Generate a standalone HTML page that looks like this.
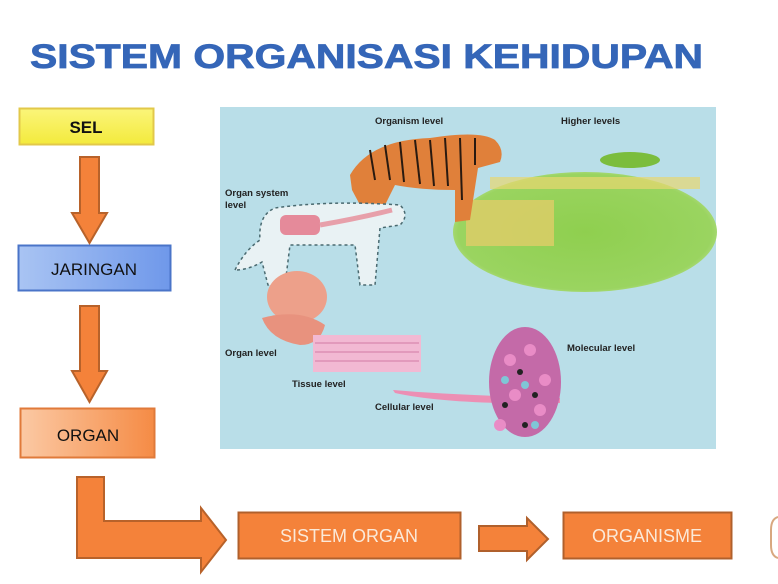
<!DOCTYPE html>
<html><head><meta charset="utf-8"><style>
html,body{margin:0;padding:0;background:#fff;width:778px;height:584px;overflow:hidden}
svg{display:block}
text{font-family:"Liberation Sans",sans-serif}
</style></head><body>
<svg width="778" height="584" viewBox="0 0 778 584" xmlns="http://www.w3.org/2000/svg">
<defs>
<linearGradient id="gy" x1="0" y1="0" x2="0" y2="1"><stop offset="0" stop-color="#fbf57a"/><stop offset="1" stop-color="#f3ea3c"/></linearGradient>
<linearGradient id="gb" x1="0" y1="0" x2="1" y2="0"><stop offset="0" stop-color="#a9c4f3"/><stop offset="1" stop-color="#6f98ea"/></linearGradient>
<linearGradient id="go" x1="0" y1="0" x2="1" y2="0"><stop offset="0" stop-color="#fbc9a4"/><stop offset="1" stop-color="#f58b45"/></linearGradient>
<radialGradient id="gg" cx="0.5" cy="0.5" r="0.6"><stop offset="0" stop-color="#8fcf4f"/><stop offset="0.8" stop-color="#9ad460"/><stop offset="1" stop-color="#d4ebba"/></radialGradient>
</defs>
<text x="30" y="68" font-size="34" font-weight="bold" fill="#3566b8" stroke="#3566b8" stroke-width="0.8" textLength="673" lengthAdjust="spacingAndGlyphs">SISTEM ORGANISASI KEHIDUPAN</text>

<rect x="19.5" y="108.5" width="134" height="36" fill="url(#gy)" stroke="#e2c84a" stroke-width="2"/>
<text x="86" y="133" font-size="17" font-weight="bold" text-anchor="middle" fill="#111">SEL</text>
<path d="M80 157 H99 V213 H107 L89.5 243 L72 213 H80 Z" fill="#f4823a" stroke="#b8622a" stroke-width="2"/>
<rect x="18.5" y="245.5" width="152" height="45" fill="url(#gb)" stroke="#4a74c8" stroke-width="2"/>
<text x="94" y="275" font-size="17" text-anchor="middle" fill="#111">JARINGAN</text>
<path d="M80 306 H99 V371 H107 L89.5 402 L72 371 H80 Z" fill="#f4823a" stroke="#b8622a" stroke-width="2"/>
<rect x="20.5" y="408.5" width="134" height="49" fill="url(#go)" stroke="#e07a3a" stroke-width="2"/>
<text x="88" y="441" font-size="17" text-anchor="middle" fill="#111">ORGAN</text>
<path d="M77 477 H104 V521 H201 V508 L226 540 L201 572 V558 H77 Z" fill="#f4823a" stroke="#b8622a" stroke-width="2"/>

<rect x="238.5" y="512.5" width="222" height="46" fill="#f4823a" stroke="#b0602c" stroke-width="2"/>
<text x="349" y="542" font-size="18" text-anchor="middle" fill="#fbe9d8">SISTEM ORGAN</text>
<path d="M479 526 H527 V518 L548 539 L527 560 V551 H479 Z" fill="#f4823a" stroke="#b0602c" stroke-width="2"/>
<rect x="563.5" y="512.5" width="168" height="46" fill="#f4823a" stroke="#b0602c" stroke-width="2"/>
<text x="647" y="542" font-size="18" text-anchor="middle" fill="#fbe9d8">ORGANISME</text>
<path d="M778 517 Q771 519 771 530 V545 Q771 556 778 558" fill="none" stroke="#d8a880" stroke-width="2"/>

<rect x="220" y="107" width="496" height="342" fill="#b9dee8"/>
<ellipse cx="585" cy="232" rx="132" ry="60" fill="url(#gg)"/>
<rect x="490" y="177" width="210" height="12" fill="#e8d770" opacity="0.7"/>
<rect x="466" y="200" width="88" height="46" fill="#e5cc6a" opacity="0.75"/>
<ellipse cx="630" cy="160" rx="30" ry="8" fill="#7bbd3d"/>
<path d="M350 175 Q370 140 430 138 Q480 130 495 140 Q505 150 500 162 L478 168 L470 220 L455 222 L455 190 Q420 190 395 185 L385 205 L360 205 L352 190 Z" fill="#e0803a"/>
<g stroke="#2a1a10" stroke-width="2">
<line x1="370" y1="150" x2="375" y2="180"/><line x1="385" y1="145" x2="390" y2="180"/><line x1="400" y1="142" x2="404" y2="182"/><line x1="415" y1="140" x2="420" y2="184"/><line x1="430" y1="140" x2="434" y2="186"/><line x1="445" y1="138" x2="448" y2="186"/><line x1="460" y1="138" x2="462" y2="200"/><line x1="475" y1="138" x2="475" y2="165"/>
</g>
<path d="M235 270 Q245 250 260 240 Q258 215 275 208 Q330 200 400 205 Q410 215 400 225 L380 228 L375 285 L360 285 L355 245 L290 245 L285 285 L268 285 L262 262 Q248 270 235 270 Z" fill="#e9f2f4" stroke="#4a6a70" stroke-width="1.5" stroke-dasharray="3 3"/>
<rect x="280" y="215" width="40" height="20" rx="6" fill="#e58a9a"/>
<path d="M320 225 Q360 218 392 210" stroke="#e7a0aa" stroke-width="5" fill="none"/>
<ellipse cx="297" cy="297" rx="30" ry="26" fill="#eda08a"/>
<path d="M262 318 Q300 308 325 325 Q320 345 300 345 Q270 340 262 318 Z" fill="#e8927e"/>
<rect x="313" y="335" width="108" height="37" fill="#f2b9d3"/>
<g stroke="#d27ba4" stroke-width="1"><line x1="315" y1="343" x2="419" y2="343"/><line x1="315" y1="352" x2="419" y2="352"/><line x1="315" y1="361" x2="419" y2="361"/></g>
<path d="M393 390 Q450 395 560 398 L560 403 Q450 405 395 393 Z" fill="#ec8fb4"/>
<ellipse cx="525" cy="382" rx="36" ry="55" fill="#c46aa8"/>
<g fill="#e98cc6"><circle cx="510" cy="360" r="6"/><circle cx="530" cy="350" r="6"/><circle cx="515" cy="395" r="6"/><circle cx="540" cy="410" r="6"/><circle cx="500" cy="425" r="6"/><circle cx="545" cy="380" r="6"/></g>
<g fill="#7fc6d6"><circle cx="525" cy="385" r="4"/><circle cx="505" cy="380" r="4"/><circle cx="535" cy="425" r="4"/></g>
<g fill="#222"><circle cx="520" cy="372" r="3"/><circle cx="505" cy="405" r="3"/><circle cx="535" cy="395" r="3"/><circle cx="525" cy="425" r="3"/></g>
<g font-size="9.5" font-weight="bold" fill="#222">
<text x="375" y="124">Organism level</text>
<text x="561" y="124">Higher levels</text>
<text x="225" y="196">Organ system</text>
<text x="225" y="208">level</text>
<text x="225" y="356">Organ level</text>
<text x="292" y="387">Tissue level</text>
<text x="375" y="410">Cellular level</text>
<text x="567" y="351">Molecular level</text>
</g>
</svg>
</body></html>
